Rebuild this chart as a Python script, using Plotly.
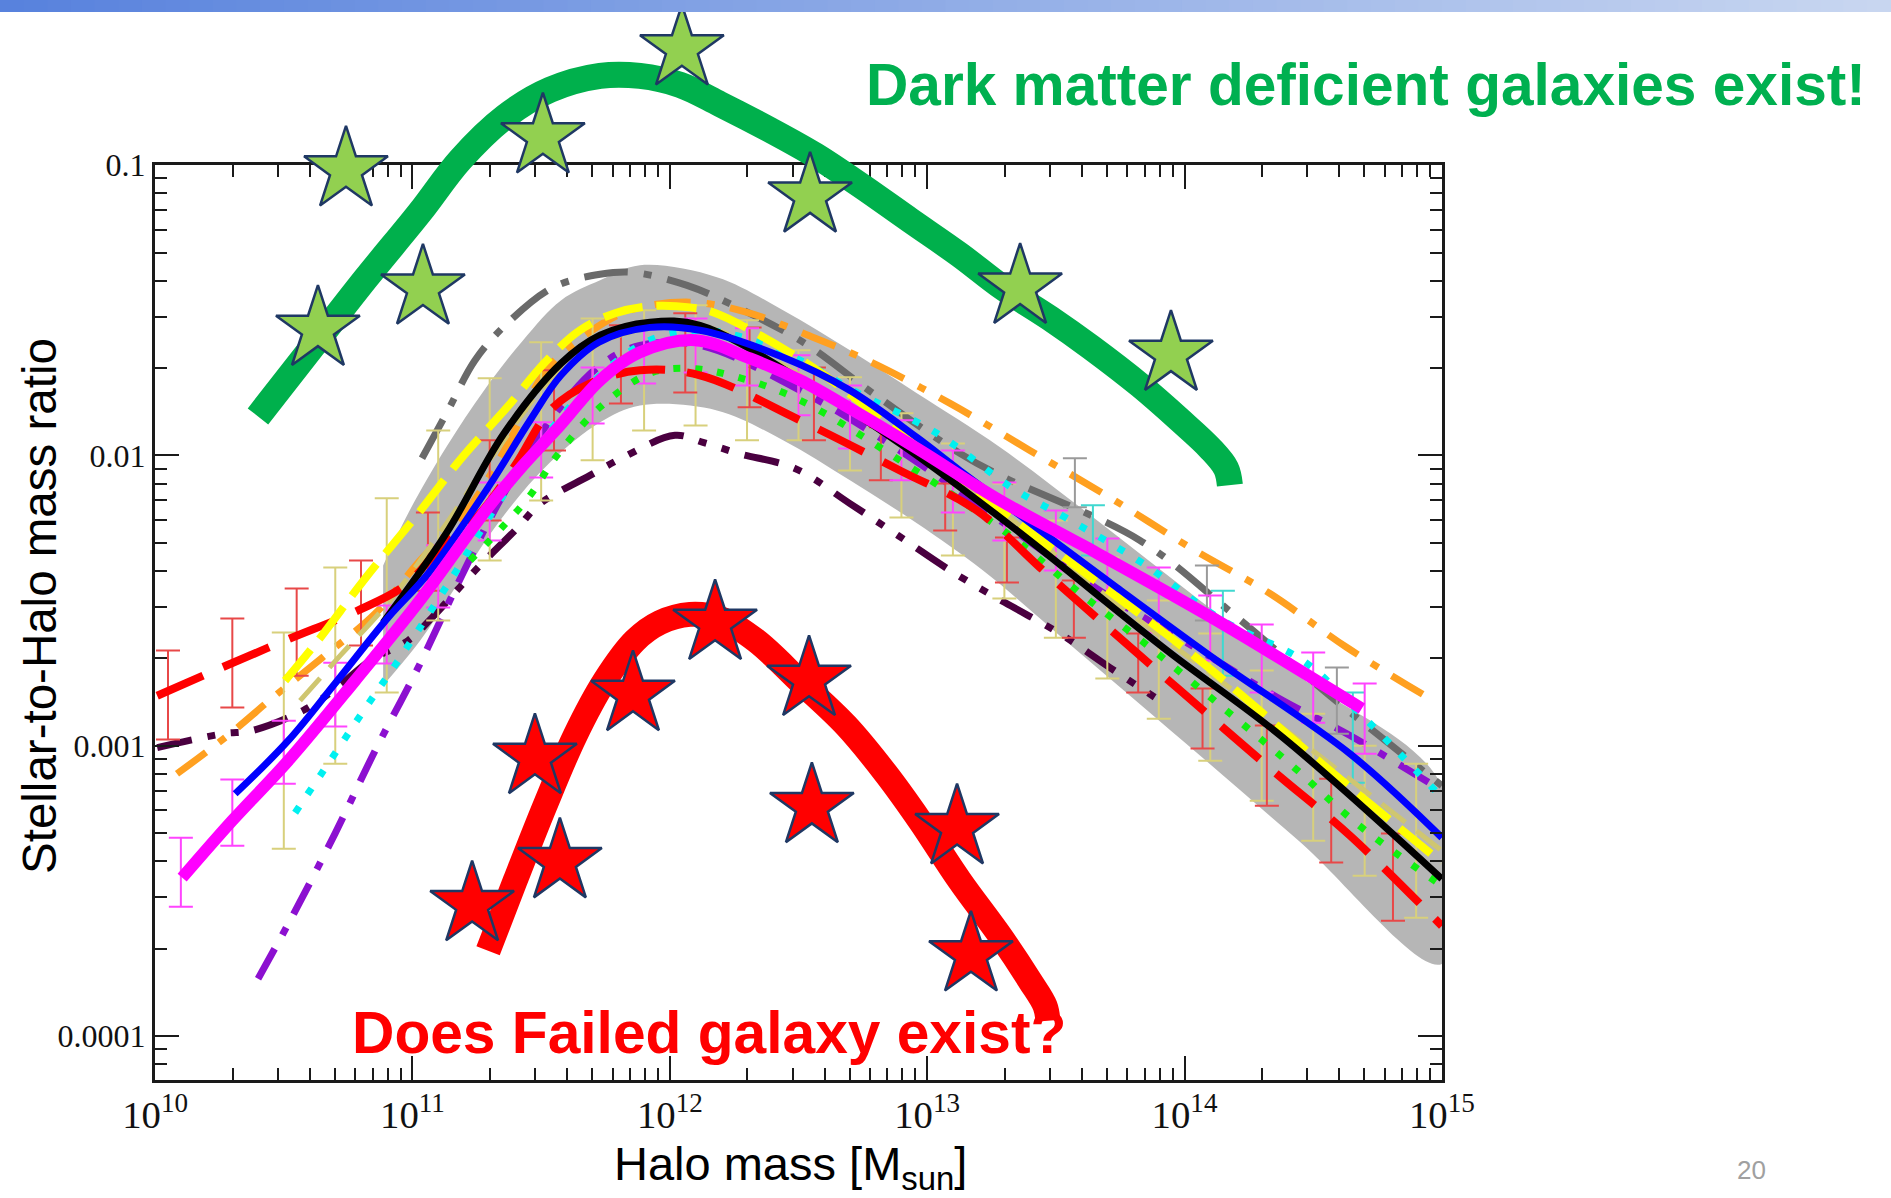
import plotly.graph_objects as go

# ------------------------------------------------------------------
# DATA  (log10 halo mass [Msun], log10 stellar-to-halo mass ratio)
# ------------------------------------------------------------------
band_up_logM = [10.886, 10.983, 11.131, 11.278, 11.430, 11.577, 11.729, 11.884, 12.183, 12.440,
                12.700, 12.960, 13.283, 13.671, 14.060, 14.448, 15.0]
band_up_logR = [-2.379, -2.200, -1.972, -1.776, -1.603, -1.466, -1.397, -1.345, -1.386, -1.500,
                -1.638, -1.786, -1.972, -2.231, -2.500, -2.762, -3.138]
band_lo_logM = [10.886, 11.030, 11.146, 11.340, 11.535, 11.729, 11.884, 12.183, 12.440, 12.700,
                12.960, 13.217, 13.582, 14.060, 14.448, 15.0]
band_lo_logR = [-2.793, -2.638, -2.483, -2.224, -2.024, -1.886, -1.828, -1.845, -1.948, -2.086,
                -2.234, -2.397, -2.672, -3.034, -3.331, -3.752]

black_logM = [10.886, 11.131, 11.356, 11.577, 11.729, 11.923, 12.117, 12.545, 12.906, 13.349, 13.932, 14.382, 15.0]
black_logR = [-2.576, -2.269, -1.924, -1.683, -1.586, -1.541, -1.552, -1.759, -1.966, -2.259, -2.672, -2.972, -3.459]

blue_logM = [10.311, 10.517, 10.699, 10.905, 11.061, 11.294, 11.457, 11.577, 11.725, 11.923, 12.117,
             12.440, 12.700, 12.960, 13.127, 13.737, 14.126, 14.643, 15.0]
blue_logR = [-3.166, -2.983, -2.786, -2.559, -2.407, -2.110, -1.879, -1.724, -1.610, -1.559, -1.569,
             -1.662, -1.776, -1.938, -2.052, -2.455, -2.707, -3.028, -3.317]

magenta_logM = [10.105, 10.299, 10.517, 10.777, 11.037, 11.294, 11.430, 11.573, 11.729, 11.884, 12.098,
                12.312, 12.506, 12.700, 12.960, 13.283, 13.605, 14.126, 14.689]
magenta_logR = [-3.455, -3.259, -3.052, -2.776, -2.490, -2.179, -2.034, -1.897, -1.741, -1.645, -1.603,
                -1.666, -1.741, -1.838, -1.976, -2.155, -2.310, -2.569, -2.872]

yellow_logM = [10.505, 10.633, 10.816, 11.010, 11.193, 11.368, 11.515, 11.651, 11.787, 11.923, 12.078,
               12.168, 12.350, 12.584, 12.855, 13.166, 13.574, 14.060, 14.565, 15.0]
yellow_logR = [-2.776, -2.638, -2.424, -2.214, -2.007, -1.834, -1.679, -1.569, -1.510, -1.486, -1.490,
               -1.507, -1.586, -1.714, -1.897, -2.110, -2.379, -2.707, -3.086, -3.403]

orange_logM = [10.085, 10.291, 10.458, 10.649, 10.855, 11.030, 11.204, 11.368, 11.519, 11.682, 11.845,
               12.078, 12.300, 12.537, 12.766, 13.089, 13.399, 13.710, 14.021, 14.332, 14.631, 14.953]
orange_logR = [-3.097, -2.959, -2.834, -2.697, -2.545, -2.362, -2.200, -1.966, -1.707, -1.579, -1.500,
               -1.472, -1.507, -1.586, -1.672, -1.821, -1.983, -2.145, -2.317, -2.476, -2.662, -2.838]

grey_logM = [11.037, 11.138, 11.243, 11.360, 11.546, 11.729, 11.853, 12.067, 12.246, 12.525, 12.789,
             13.127, 13.283, 13.827, 14.196, 14.565, 15.0]
grey_logR = [-2.010, -1.845, -1.672, -1.552, -1.421, -1.376, -1.369, -1.414, -1.483, -1.614, -1.786,
             -1.993, -2.069, -2.293, -2.552, -2.828, -3.138]

maroon_logM = [10.008, 10.264, 10.377, 10.575, 10.707, 10.835, 10.983, 11.076, 11.243, 11.410, 11.496,
               11.690, 11.818, 12.020, 12.129, 12.265, 12.486, 12.700, 12.887, 13.108, 13.302, 13.516,
               13.710, 13.916]
maroon_logR = [-3.007, -2.959, -2.948, -2.879, -2.800, -2.707, -2.638, -2.559, -2.397, -2.248, -2.166,
               -2.069, -2.007, -1.931, -1.955, -1.993, -2.045, -2.166, -2.276, -2.407, -2.507, -2.614,
               -2.731, -2.852]

purple_logM = [10.400, 10.524, 10.699, 10.855, 11.022, 11.177, 11.340, 11.535, 11.729, 11.884, 12.117,
               12.506, 12.894, 13.283, 13.671, 14.060, 14.382, 14.631, 15.0]
purple_logR = [-3.803, -3.603, -3.303, -3.017, -2.731, -2.441, -2.155, -1.879, -1.690, -1.621, -1.621,
               -1.776, -1.983, -2.224, -2.466, -2.672, -2.845, -2.959, -3.155]

reddash_logM = [10.008, 10.233, 10.505, 10.789, 10.971, 11.107, 11.255, 11.399, 11.535, 11.690, 11.884,
                12.117, 12.506, 12.894, 13.193, 13.438, 13.671, 13.970, 14.343, 14.643, 15.0]
reddash_logR = [-2.828, -2.741, -2.638, -2.534, -2.448, -2.321, -2.207, -2.034, -1.845, -1.752, -1.707,
                -1.724, -1.879, -2.052, -2.190, -2.386, -2.569, -2.800, -3.086, -3.310, -3.621]

lime_logM = [11.224, 11.348, 11.457, 11.562, 11.729, 11.923, 12.078, 12.265, 12.506, 12.894, 13.322,
             13.582, 13.866, 14.149, 14.409, 14.670, 15.0]
lime_logR = [-2.362, -2.248, -2.138, -2.000, -1.834, -1.717, -1.700, -1.731, -1.810, -2.017, -2.276,
             -2.466, -2.662, -2.869, -3.062, -3.269, -3.483]

cyan_logM = [10.544, 10.680, 10.816, 10.952, 11.154, 11.340, 11.535, 11.729, 11.923, 12.117, 12.284,
             12.506, 12.712, 13.038, 13.333, 13.543, 13.838, 14.149, 14.460, 14.670, 15.0]
cyan_logR = [-3.231, -3.052, -2.872, -2.697, -2.421, -2.155, -1.914, -1.724, -1.603, -1.569, -1.593,
             -1.672, -1.776, -1.924, -2.114, -2.217, -2.372, -2.569, -2.707, -2.879, -3.179]

khaki_logM = [10.563, 10.719, 10.913, 11.127, 11.340, 11.573, 11.807, 12.117, 12.506, 12.894, 13.283,
              13.671, 14.060, 14.448, 15.0]
khaki_logR = [-2.845, -2.690, -2.500, -2.241, -1.966, -1.707, -1.586, -1.552, -1.724, -1.948, -2.190,
              -2.466, -2.724, -2.983, -3.362]

# error-bar data sets: log mass, upper / lower log ratio
red_eb_logM = [10.05, 10.30, 10.55, 10.80, 11.06, 11.30, 11.55, 11.81, 12.06, 12.31, 12.56, 12.82,
               13.07, 13.31, 13.57, 13.82, 14.07, 14.32, 14.57, 14.81]
red_eb_hi = [-2.672, -2.562, -2.459, -2.362, -2.197, -1.948, -1.707, -1.552, -1.510, -1.559, -1.697,
             -1.903, -2.097, -2.283, -2.431, -2.614, -2.803, -2.931, -3.114, -3.303]
red_eb_lo = [-2.979, -2.869, -2.759, -2.655, -2.466, -2.224, -1.983, -1.821, -1.783, -1.834, -1.948,
             -2.086, -2.259, -2.438, -2.628, -2.817, -3.010, -3.207, -3.403, -3.603]

mag_eb_logM = [10.1, 10.3, 10.5, 10.7, 10.9, 11.1, 11.3, 11.5, 11.7, 11.9, 12.1, 12.3, 12.5, 12.7,
               12.9, 13.1, 13.3, 13.5, 13.7, 13.9, 14.1, 14.3, 14.5, 14.7]
mag_eb_hi = [-3.317, -3.117, -2.914, -2.714, -2.517, -2.310, -2.093, -1.886, -1.697, -1.566, -1.528,
             -1.562, -1.655, -1.759, -1.879, -1.983, -2.093, -2.190, -2.286, -2.386, -2.483, -2.583,
             -2.679, -2.786]
mag_eb_lo = [-3.555, -3.345, -3.131, -2.934, -2.717, -2.524, -2.293, -2.076, -1.890, -1.752, -1.714,
             -1.759, -1.862, -1.976, -2.086, -2.197, -2.293, -2.397, -2.500, -2.610, -2.707, -2.817,
             -2.921, -3.028]

khaki_eb_logM = [10.5, 10.7, 10.9, 11.1, 11.3, 11.5, 11.7, 11.9, 12.1, 12.3, 12.5, 12.7, 12.9, 13.1,
                 13.3, 13.5, 13.7, 13.9, 14.1, 14.3, 14.5, 14.7, 14.9]
khaki_eb_hi = [-2.610, -2.386, -2.148, -1.914, -1.734, -1.610, -1.528, -1.500, -1.483, -1.534, -1.638,
               -1.731, -1.855, -1.959, -2.097, -2.224, -2.352, -2.500, -2.614, -2.741, -2.890, -3.000,
               -3.062]
khaki_eb_lo = [-3.355, -3.062, -2.817, -2.569, -2.362, -2.155, -2.017, -1.914, -1.897, -1.948, -1.948,
               -2.052, -2.214, -2.345, -2.493, -2.628, -2.769, -2.907, -3.052, -3.190, -3.328, -3.448,
               -3.593]

grey_eb_logM = [13.574, 14.087, 14.592]
grey_eb_hi = [-2.010, -2.379, -2.731]
grey_eb_lo = [-2.179, -2.569, -2.959]

cyan_eb_logM = [13.644, 14.149, 14.654]
cyan_eb_hi = [-2.172, -2.466, -2.817]
cyan_eb_lo = [-2.345, -2.759, -3.128]

# annotation curves and stars (drawn on an overlay spanning the whole slide)
green_arc_logM = [10.400, 10.610, 10.820, 11.030, 11.185, 11.360, 11.535, 11.729, 11.884, 12.040, 12.195,
                  12.389, 12.564, 12.739, 12.933, 13.127, 13.291, 13.477, 13.636, 13.827, 13.982,
                  14.099, 14.161, 14.176]
green_arc_logR = [-1.866, -1.628, -1.390, -1.162, -0.983, -0.834, -0.741, -0.693, -0.693, -0.724, -0.790,
                  -0.879, -0.966, -1.069, -1.190, -1.310, -1.421, -1.528, -1.628, -1.759, -1.879,
                  -1.976, -2.045, -2.103]
red_arc_logM = [11.294, 11.399, 11.515, 11.632, 11.748, 11.865, 11.962, 12.078, 12.195, 12.335, 12.510,
                12.685, 12.840, 12.972, 13.127, 13.283, 13.399, 13.458, 13.469]
red_arc_logR = [-3.707, -3.466, -3.207, -2.966, -2.776, -2.638, -2.576, -2.548, -2.562, -2.638, -2.783,
                -2.931, -3.097, -3.259, -3.466, -3.655, -3.810, -3.897, -3.948]

green_star_logM = [10.742, 12.047, 11.507, 10.633, 11.041, 12.545, 13.361, 13.947]
green_star_logR = [-1.017, -0.600, -0.903, -1.566, -1.424, -1.107, -1.421, -1.652]
red_star_logM = [12.176, 11.857, 12.541, 11.476, 11.232, 11.573, 12.552, 13.116, 13.170]
red_star_logR = [-2.579, -2.824, -2.772, -3.041, -3.548, -3.400, -3.210, -3.283, -3.721]

# ------------------------------------------------------------------
W, H = 1891, 1198
PX_L, PX_R, PX_T, PX_B = 155, 1442, 165, 1080
X_RANGE = [10.0, 15.0]
Y_RANGE = [-4.152, -1.0]


def P(a):
    return [10 ** v for v in a]


fig = go.Figure()

# grey band
fig.add_trace(go.Scatter(
    x=P(band_up_logM + band_lo_logM[::-1]), y=P(band_up_logR + band_lo_logR[::-1]),
    mode="lines", fill="toself", fillcolor="#b6b6b6", line=dict(width=0, shape="spline"),
    hoverinfo="skip"))


def line(lm, lr, color, width, dash="solid"):
    fig.add_trace(go.Scatter(x=P(lm), y=P(lr), mode="lines",
                             line=dict(color=color, width=width, dash=dash, shape="spline"),
                             hoverinfo="skip"))


def ebars(lm, hi, lo, color):
    mid = [(a + b) / 2 for a, b in zip(hi, lo)]
    y = P(mid)
    up = [10 ** a - c for a, c in zip(hi, y)]
    dn = [c - 10 ** b for b, c in zip(lo, y)]
    fig.add_trace(go.Scatter(x=P(lm), y=y, mode="markers",
                             marker=dict(size=2, color="rgba(0,0,0,0)"),
                             error_y=dict(type="data", symmetric=False, array=up, arrayminus=dn,
                                          color=color, thickness=2, width=12),
                             hoverinfo="skip"))


line(maroon_logM, maroon_logR, "#4a0040", 7, "35px,16px,8px,16px,8px,16px")
line(purple_logM, purple_logR, "#8c10d0", 7, "34px,16px,8px,16px")
line(grey_logM, grey_logR, "#6a6a6a", 7, "44px,16px,8px,16px")
line(orange_logM, orange_logR, "#ffa020", 7, "36px,16px,8px,16px")

ebars(khaki_eb_logM, khaki_eb_hi, khaki_eb_lo, "#d8d07c")
ebars(red_eb_logM, red_eb_hi, red_eb_lo, "#e84848")
ebars(grey_eb_logM, grey_eb_hi, grey_eb_lo, "#9a9a9a")
ebars(cyan_eb_logM, cyan_eb_hi, cyan_eb_lo, "#40d8d0")
ebars(mag_eb_logM, mag_eb_hi, mag_eb_lo, "#ff44ff")

line(khaki_logM, khaki_logR, "#cfc670", 5, "30px,14px")
line(cyan_logM, cyan_logR, "#00f0f0", 7, "7px,15px")
line(lime_logM, lime_logR, "#10f010", 7, "7px,15px")
line(reddash_logM, reddash_logR, "#ff0000", 8, "50px,22px")
line(yellow_logM, yellow_logR, "#ffff00", 8, "40px,14px")
line(black_logM, black_logR, "#000000", 7)
line(blue_logM, blue_logR, "#0000ff", 7)
line(magenta_logM, magenta_logR, "#ff00ff", 12)

# overlay subplot covering the whole slide (same scale as the main axes)
ppd_x = (PX_R - PX_L) / (X_RANGE[1] - X_RANGE[0])
ppd_y = (PX_B - PX_T) / (Y_RANGE[1] - Y_RANGE[0])
x2_range = [X_RANGE[0] - PX_L / ppd_x, X_RANGE[1] + (W - PX_R) / ppd_x]
y2_range = [Y_RANGE[0] - (H - PX_B) / ppd_y, Y_RANGE[1] + PX_T / ppd_y]

fig.add_trace(go.Scatter(x=P(green_arc_logM), y=P(green_arc_logR), mode="lines", xaxis="x2", yaxis="y2",
                         line=dict(color="#00b04c", width=26, shape="spline"), hoverinfo="skip"))
fig.add_trace(go.Scatter(x=P(red_arc_logM), y=P(red_arc_logR), mode="lines", xaxis="x2", yaxis="y2",
                         line=dict(color="#ff0000", width=25, shape="spline"), hoverinfo="skip"))
fig.add_trace(go.Scatter(x=P(green_star_logM), y=P(green_star_logR), mode="markers", xaxis="x2", yaxis="y2",
                         marker=dict(symbol="star", size=63, color="#92d050",
                                     line=dict(color="#1f3864", width=2.5)), hoverinfo="skip"))
fig.add_trace(go.Scatter(x=P(red_star_logM), y=P(red_star_logR), mode="markers", xaxis="x2", yaxis="y2",
                         marker=dict(symbol="star", size=63, color="#ff0000",
                                     line=dict(color="#1f3864", width=2.5)), hoverinfo="skip"))

serif = "Liberation Serif, Times New Roman, serif"
axis_common = dict(type="log", showgrid=False, zeroline=False, showline=True, linewidth=3,
                   linecolor="#1a1a1a", mirror="ticks", ticks="inside", ticklen=24, tickwidth=2,
                   tickcolor="#1a1a1a", tick0=0, dtick=1, automargin=False,
                   minor=dict(ticks="inside", ticklen=12, tickwidth=2, tickcolor="#1a1a1a",
                              dtick="D1", showgrid=False),
                   fixedrange=True)

fig.update_layout(
    template="none",
    width=W, height=H, margin=dict(l=0, r=0, t=0, b=0, pad=0, autoexpand=False),
    paper_bgcolor="white", plot_bgcolor="rgba(0,0,0,0)", showlegend=False, hovermode=False,
    xaxis=dict(axis_common, domain=[PX_L / W, PX_R / W], range=[X_RANGE[0] - 0.0005, X_RANGE[1] + 0.0005],
               exponentformat="power", anchor="y",
               tickfont=dict(family=serif, size=31, color="#111")),
    yaxis=dict(axis_common, domain=[1 - PX_B / H, 1 - PX_T / H], range=[Y_RANGE[0], Y_RANGE[1] + 0.0005],
               exponentformat="none", anchor="x",
               tickfont=dict(family=serif, size=32, color="#111")),
    xaxis2=dict(type="log", domain=[0, 1], range=x2_range, visible=False, anchor="y2", fixedrange=True,
                automargin=False),
    yaxis2=dict(type="log", domain=[0, 1], range=y2_range, visible=False, anchor="x2", fixedrange=True,
                automargin=False),
)

# gradient title bar
n_seg = 80
c0, c1 = (88, 130, 221), (200, 214, 240)
shapes = []
for i in range(n_seg):
    t = i / (n_seg - 1)
    col = "rgb(%d,%d,%d)" % tuple(round(a + (b - a) * t) for a, b in zip(c0, c1))
    shapes.append(dict(type="rect", xref="paper", yref="paper", x0=i / n_seg, x1=(i + 1) / n_seg + 0.001,
                       y0=1 - 12 / H, y1=1, fillcolor=col, line=dict(width=0), layer="above"))
fig.update_layout(shapes=shapes)

sans = "Liberation Sans, Arial, sans-serif"
fig.add_annotation(text="Dark matter deficient galaxies exist!", xref="paper", yref="paper",
                   x=864 / W, y=1 - 85 / H, xanchor="left", yanchor="middle", showarrow=False,
                   font=dict(family=sans, size=58.6, color="#00b050", weight="bold"))
fig.add_annotation(text="Does Failed galaxy exist?", xref="paper", yref="paper",
                   x=350 / W, y=1 - 1032 / H, xanchor="left", yanchor="middle", showarrow=False,
                   font=dict(family=sans, size=58.7, color="#ff0000", weight="bold"))
fig.add_annotation(text="Halo mass [M<sub>sun</sub>]", xref="paper", yref="paper",
                   x=790 / W, y=1 - 1167 / H, xanchor="center", yanchor="middle", showarrow=False,
                   font=dict(family=sans, size=47, color="#000"))
fig.add_annotation(text="Stellar-to-Halo mass ratio", xref="paper", yref="paper", textangle=-90,
                   x=39 / W, y=1 - 606 / H, xanchor="center", yanchor="middle", showarrow=False,
                   font=dict(family=sans, size=47.5, color="#000"))
fig.add_annotation(text="20", xref="paper", yref="paper",
                   x=1751 / W, y=1 - 1170 / H, xanchor="center", yanchor="middle", showarrow=False,
                   font=dict(family=sans, size=26, color="#a0a0a0"))

fig.write_html("out.html")
